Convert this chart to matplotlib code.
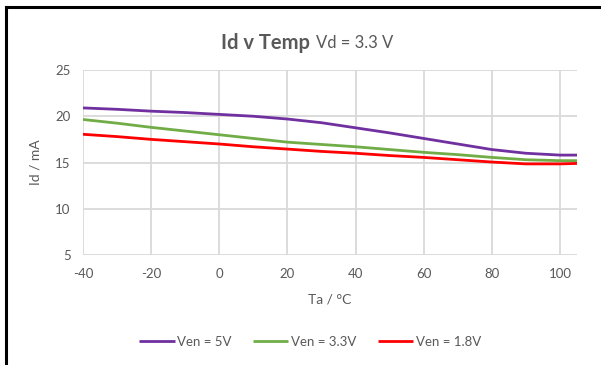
import matplotlib
matplotlib.use('Agg')
import matplotlib.pyplot as plt
from matplotlib.lines import Line2D

plt.rcParams['font.family'] = ['Lato', 'DejaVu Sans']
plt.rcParams['axes.unicode_minus'] = False

# 数据
temps = [-40, -30, -20, -10, 0, 10, 20, 30, 40, 50, 60, 70, 80, 90, 100, 105]
id_ven_5v = [20.9, 20.75, 20.55, 20.4, 20.2, 20.0, 19.7, 19.3, 18.75, 18.2,
             17.6, 17.0, 16.4, 16.0, 15.8, 15.8]
id_ven_3v3 = [19.65, 19.25, 18.8, 18.4, 18.0, 17.6, 17.2, 16.95, 16.7, 16.4,
              16.1, 15.85, 15.55, 15.3, 15.2, 15.2]
id_ven_1v8 = [18.05, 17.8, 17.5, 17.25, 17.0, 16.7, 16.45, 16.2, 16.0, 15.75,
              15.55, 15.3, 15.05, 14.85, 14.85, 14.9]
series_labels = ['Ven = 5V', 'Ven = 3.3V', 'Ven = 1.8V']
x_ticks = [-40, -20, 0, 20, 40, 60, 80, 100]
y_ticks = [5, 10, 15, 20, 25]

colors = ['#7030A0', '#70AD47', '#FF0000']
text_color = '#595959'
grid_color = '#D9D9D9'

fig = plt.figure(figsize=(6.01, 3.65), dpi=100)
ax = fig.add_axes([83 / 601, 1 - 255 / 365, 494 / 601, 185 / 365])

# 绘制曲线
for values, label, color in zip([id_ven_5v, id_ven_3v3, id_ven_1v8], series_labels, colors):
    ax.plot(temps, values, color=color, linewidth=2, label=label,
            solid_capstyle='butt', solid_joinstyle='round')

ax.set_xlim(-40, 105)
ax.set_ylim(5, 25)
ax.set_xticks(x_ticks)
ax.set_yticks(y_ticks)
ax.grid(True, color=grid_color, linewidth=1.3)
ax.set_axisbelow(True)
for spine in ax.spines.values():
    spine.set_visible(False)
ax.tick_params(length=0, colors=text_color, labelsize=9.5, pad=9)

ax.set_xlabel('Ta / °C', color=text_color, fontsize=10, labelpad=10)
ax.set_ylabel('Id / mA', color=text_color, fontsize=10, labelpad=10)

# 标题（粗体 + 常规）
fig.text(310 / 601, 1 - 43 / 365, 'Id v Temp', ha='right', va='center',
         fontsize=14.5, fontweight='bold', color=text_color)
fig.text(316 / 601, 1 - 43 / 365, 'Vd = 3.3 V', ha='left', va='center',
         fontsize=12, color=text_color)

# 图例
fig.legend(loc='center', bbox_to_anchor=(310 / 601, 1 - 342 / 365), ncol=3,
           frameon=False, fontsize=9.5, handlelength=2.7, handletextpad=0.2,
           columnspacing=1.6, labelcolor=text_color)

# 截图边框
fig.add_artist(Line2D([6 / 601, 6 / 601], [0, 1 - 7 / 365], color='black',
                      linewidth=2.2, transform=fig.transFigure))
fig.add_artist(Line2D([6 / 601, 1], [1 - 7 / 365, 1 - 7 / 365], color='black',
                      linewidth=2.2, transform=fig.transFigure))

fig.savefig('out.png', dpi=100)
